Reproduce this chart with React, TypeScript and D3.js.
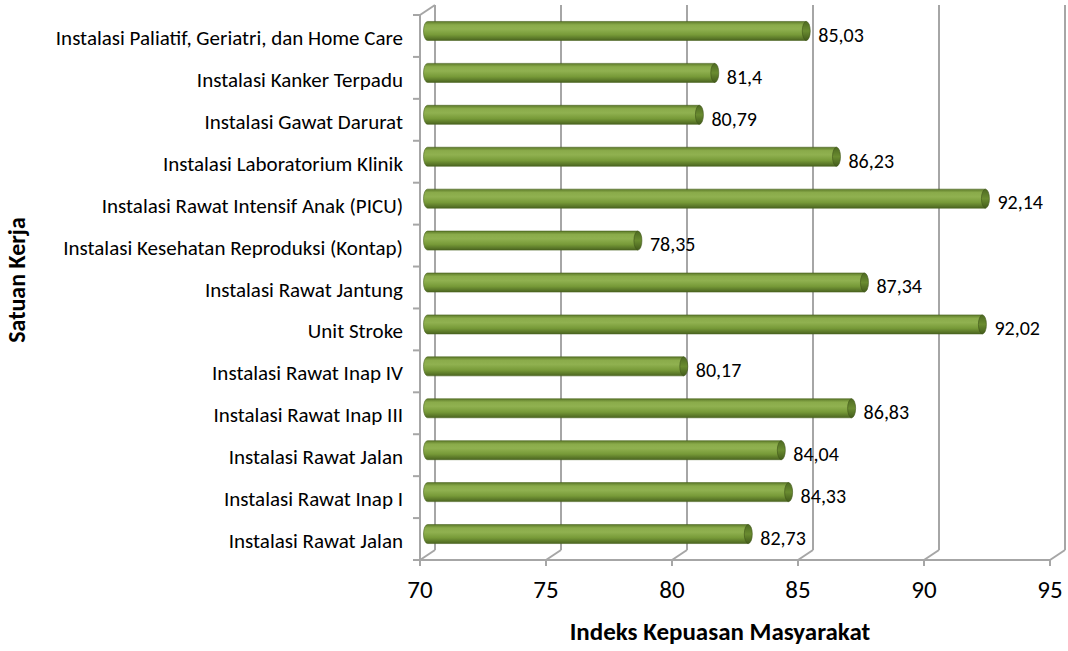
import * as d3 from 'd3';

// Categories, top to bottom
const categories = [
  'Instalasi Paliatif, Geriatri, dan Home Care',
  'Instalasi Kanker Terpadu',
  'Instalasi Gawat Darurat',
  'Instalasi Laboratorium Klinik',
  'Instalasi Rawat Intensif Anak (PICU)',
  'Instalasi Kesehatan Reproduksi (Kontap)',
  'Instalasi Rawat Jantung',
  'Unit Stroke',
  'Instalasi Rawat Inap IV',
  'Instalasi Rawat Inap III',
  'Instalasi Rawat Jalan',
  'Instalasi Rawat Inap I',
  'Instalasi Rawat Jalan',
];
const values = [85.03, 81.4, 80.79, 86.23, 92.14, 78.35, 87.34, 92.02, 80.17, 86.83, 84.04, 84.33, 82.73];
const valueLabels = ['85,03', '81,4', '80,79', '86,23', '92,14', '78,35', '87,34', '92,02', '80,17', '86,83', '84,04', '84,33', '82,73'];
const xTicks = [70, 75, 80, 85, 90, 95];

const FONT = "Carlito, Calibri, Lato, 'Noto Sans', sans-serif";

export default function App() {
  const width = 1068;
  const height = 651;
  const plot = { left: 420, right: 1050, top: 15, bottom: 560 };
  const depth = { dx: 15, dy: -10 };

  const x = d3.scaleLinear().domain([70, 95]).range([plot.left, plot.right]);
  const y = d3
    .scaleBand<number>()
    .domain(d3.range(categories.length))
    .range([plot.top, plot.bottom]);

  const barH = 19;
  const midDx = depth.dx / 2;
  const midDy = depth.dy / 2;
  const grid = '#a6a6a6';
  const capRx = 4;

  return (
    <svg width={width} height={height} style={{ position: 'absolute', left: 0, top: 0 }}>
      <defs>
        <linearGradient id="cyl" x1="0" y1="0" x2="0" y2="1">
          <stop offset="0%" stopColor="#5d7a29" />
          <stop offset="18%" stopColor="#8aab4a" />
          <stop offset="40%" stopColor="#90b150" />
          <stop offset="70%" stopColor="#779a38" />
          <stop offset="100%" stopColor="#4b6520" />
        </linearGradient>
        <linearGradient id="cap" x1="0" y1="0" x2="0" y2="1">
          <stop offset="0%" stopColor="#4e6a22" />
          <stop offset="50%" stopColor="#6a8c30" />
          <stop offset="100%" stopColor="#435c1b" />
        </linearGradient>
      </defs>

      {/* back grid lines and floor diagonals */}
      {xTicks.map((t) => (
        <g key={`g${t}`} stroke={grid} strokeWidth={2} fill="none">
          <line
            x1={x(t) + depth.dx}
            x2={x(t) + depth.dx}
            y1={plot.top + depth.dy}
            y2={plot.bottom + depth.dy}
          />
          <line x1={x(t)} y1={plot.bottom} x2={x(t) + depth.dx} y2={plot.bottom + depth.dy} />
          <line x1={x(t)} y1={plot.bottom} x2={x(t)} y2={plot.bottom + 6} />
        </g>
      ))}

      {/* left axis (front edge) */}
      <g stroke={grid} strokeWidth={2} fill="none">
        <line x1={plot.left} x2={plot.left} y1={plot.top} y2={plot.bottom} />
        <line x1={plot.left} y1={plot.top} x2={plot.left + depth.dx} y2={plot.top + depth.dy} />
        <line x1={plot.left} x2={plot.right} y1={plot.bottom} y2={plot.bottom} />
        {d3.range(categories.length + 1).map((i) => {
          const yy = plot.top + i * y.step();
          return <line key={`t${i}`} x1={plot.left - 7} x2={plot.left} y1={yy} y2={yy} />;
        })}
      </g>

      {/* bars */}
      {values.map((v, i) => {
        const cy = (y(i) as number) + y.bandwidth() / 2 + midDy;
        const x0 = x(70) + midDx;
        const x1 = x(v) + midDx;
        const top = cy - barH / 2;
        const path = `M${x0},${top} L${x1},${top} L${x1},${top + barH} L${x0},${top + barH} A${capRx},${barH / 2} 0 0 1 ${x0},${top} Z`;
        return (
          <g key={`b${i}`}>
            <path d={path} fill="url(#cyl)" stroke="#4a6320" strokeWidth={0.6} />
            <ellipse cx={x1} cy={cy} rx={capRx} ry={barH / 2} fill="url(#cap)" stroke="#3f561a" strokeWidth={0.6} />
            <text
              x={x1 + capRx + 8}
              y={cy + 6}
              fontFamily={FONT}
              fontSize={20}
              fill="#000"
              dominantBaseline="middle"
            >
              {valueLabels[i]}
            </text>
          </g>
        );
      })}

      {/* category labels */}
      {categories.map((c, i) => (
        <text
          key={`c${i}`}
          x={plot.left - 17}
          y={(y(i) as number) + y.bandwidth() / 2 + 4}
          textAnchor="end"
          dominantBaseline="middle"
          fontFamily={FONT}
          fontSize={21}
          fill="#000"
        >
          {c}
        </text>
      ))}

      {/* x tick labels */}
      {xTicks.map((t) => (
        <text
          key={`xl${t}`}
          x={x(t)}
          y={592}
          textAnchor="middle"
          dominantBaseline="middle"
          fontFamily={FONT}
          fontSize={25}
          fill="#000"
        >
          {t}
        </text>
      ))}

      {/* axis titles */}
      <text
        x={720}
        y={634}
        textAnchor="middle"
        dominantBaseline="middle"
        fontFamily={FONT}
        fontSize={25}
        fontWeight="bold"
        fill="#000"
      >
        Indeks Kepuasan Masyarakat
      </text>
      <text
        transform="translate(19,280) rotate(-90)"
        textAnchor="middle"
        dominantBaseline="middle"
        fontFamily={FONT}
        fontSize={24}
        fontWeight="bold"
        fill="#000"
      >
        Satuan Kerja
      </text>
    </svg>
  );
}
